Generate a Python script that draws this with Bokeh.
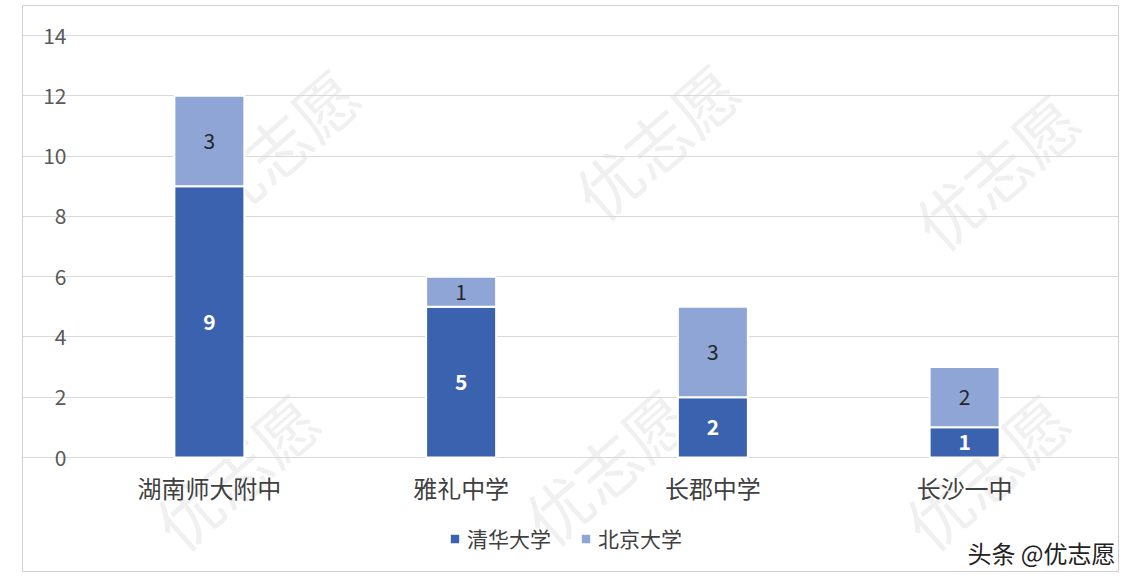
import math
from bokeh.plotting import figure
from bokeh.models import (Legend, LegendItem, Label, ColumnDataSource, Range1d, Grid,
                          FixedTicker)
from bokeh.core.properties import value
from bokeh.embed import file_html
from bokeh.resources import INLINE

schools = ["湖南师大附中", "雅礼中学", "长郡中学", "长沙一中"]
series_names = ["清华大学", "北京大学"]
tsinghua = [9, 5, 2, 1]
peking = [3, 1, 3, 2]
y_ticks = [0, 2, 4, 6, 8, 10, 12, 14]
watermark = "优志愿"
credit = "头条 @优志愿"

dark = "#3a62ae"
light = "#8fa5d6"
font = "Noto Sans CJK SC"

# ---- layout (pixels) ----
W, H = 1128, 572
frame_l, frame_r, frame_t, frame_b = 22, 1118, 5, 571
plot_l, plot_r, plot_t, plot_b = 83, 1090, 35, 457
ymax = y_ticks[-1]
ppx = (plot_r - plot_l) / len(schools)      # px per category
ppy = (plot_b - plot_t) / ymax              # px per unit

x_range = Range1d(-(plot_l - frame_l) / ppx, len(schools) + (frame_r - plot_r) / ppx)
y_range = Range1d(-(frame_b - plot_b) / ppy, ymax + (plot_t - frame_t) / ppy)

xs = [i + 0.5 for i in range(len(schools))]
src = ColumnDataSource(dict(x=xs, school=schools, t=tsinghua, p=peking))

p = figure(width=W, height=H, x_range=x_range, y_range=y_range,
           output_backend="svg", toolbar_location=None,
           x_axis_location=None, y_axis_location=None,
           min_border_left=frame_l, min_border_right=W - frame_r,
           min_border_top=frame_t, min_border_bottom=H - frame_b)
p.outline_line_color = "#d0d0d0"
p.outline_line_width = 1
p.background_fill_color = "white"
p.border_fill_color = "white"
p.xgrid.visible = False
p.ygrid.visible = False

# watermarks (decorative, faint)
for sx, sy in [(275, 145), (655, 140), (995, 170), (235, 470), (605, 465), (985, 470)]:
    p.add_layout(Label(x=sx - frame_l, y=frame_b - sy, x_units="screen", y_units="screen",
                       text=watermark, text_font=font, text_font_size="64px",
                       text_color="#f0f0f0", text_align="center", text_baseline="middle",
                       angle=0.72, level="underlay"))

grid = Grid(dimension=1, ticker=FixedTicker(ticks=y_ticks), bounds=(0, len(schools)),
            grid_line_color="#d9d9d9", grid_line_width=1)
p.add_layout(grid)

r = p.vbar_stack(["t", "p"], x="x", width=70 / ppx, source=src,
                 color=[dark, light], line_color="white", line_width=2)

# segment labels
tc = [v / 2 for v in tsinghua]
pc = [a + b / 2 for a, b in zip(tsinghua, peking)]
p.text(x=xs, y=tc, text=[str(v) for v in tsinghua], text_align="center",
       text_baseline="middle", text_color="white", text_font_size="21px",
       text_font=value(font), text_font_style="bold")
p.text(x=xs, y=pc, text=[str(v) for v in peking], text_align="center",
       text_baseline="middle", text_color="#262626", text_font_size="21px",
       text_font=value(font))

# y tick labels
p.text(x=[-17 / ppx] * len(y_ticks), y=y_ticks, text=[str(t) for t in y_ticks],
       text_align="right", text_baseline="middle", text_color="#595959",
       text_font_size="21px", text_font=value(font))

# category labels
p.text(x=xs, y=[-30 / ppy] * len(schools), text=schools, text_align="center",
       text_baseline="middle", text_color="#404040", text_font_size="24px",
       text_font=value(font))

legend = Legend(items=[LegendItem(label=series_names[0], renderers=[r[0]]),
                       LegendItem(label=series_names[1], renderers=[r[1]])],
                orientation="horizontal", location=(448 - frame_l, 18),
                border_line_color=None, background_fill_alpha=0,
                label_text_font_size="21px", label_text_font=font, label_text_color="#404040",
                glyph_width=13, glyph_height=13, padding=0, margin=0, spacing=28,
                label_standoff=6)
p.add_layout(legend, "center")

p.add_layout(Label(x=1115 - frame_l, y=frame_b - 552, x_units="screen", y_units="screen",
                   text=credit, text_font=font, text_font_size="24px", text_color="#222222",
                   text_align="right", text_baseline="middle"))

open("out.html", "w").write(file_html(p, INLINE))
